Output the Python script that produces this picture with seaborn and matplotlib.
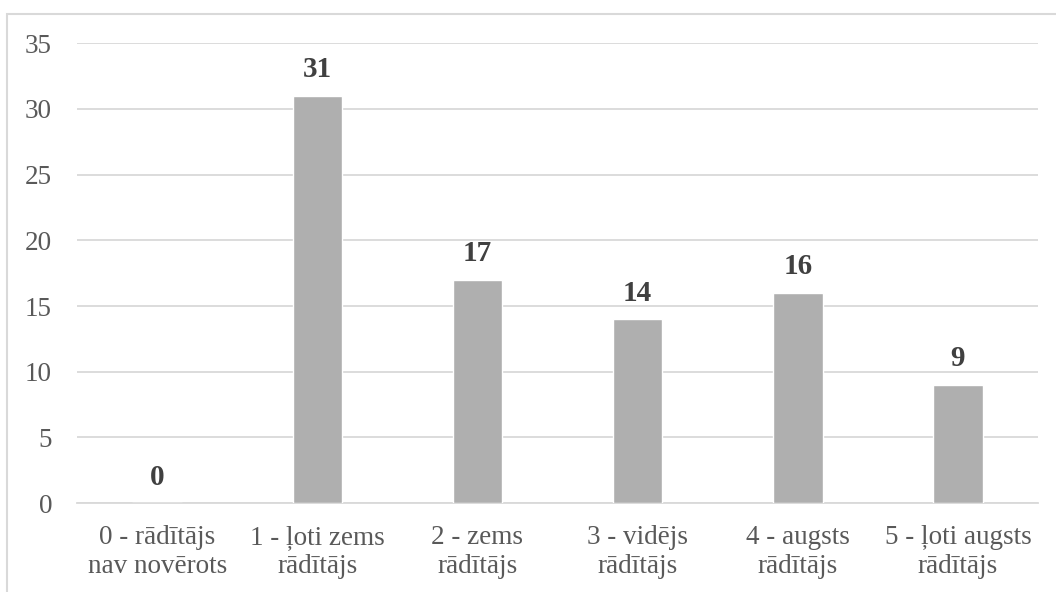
import matplotlib
matplotlib.use("Agg")
import matplotlib.pyplot as plt
import seaborn as sns
import pandas as pd

# Chart data
categories = ["0 - rādītājs\nnav novērots", "1 - ļoti zems\nrādītājs", "2 - zems\nrādītājs",
              "3 - vidējs\nrādītājs", "4 - augsts\nrādītājs", "5 - ļoti augsts\nrādītājs"]
counts = [0, 31, 17, 14, 16, 9]
y_ticks = [0, 5, 10, 15, 20, 25, 30, 35]

df = pd.DataFrame({"cat": categories, "count": counts})

sns.set_style("white")
plt.rcParams['font.family'] = ['Liberation Serif', 'DejaVu Serif']

text_col = "#595959"
grid_col = "#d9d9d9"

fig = plt.figure(figsize=(10.56, 5.92), dpi=100)
ax = fig.add_axes([0.073, 0.150, 0.910, 0.777])

sns.barplot(data=df, x="cat", y="count", color="#afafaf", width=0.31,
            saturation=1, ax=ax, zorder=3)

ax.set_ylim(0, 35)
ax.set_yticks(y_ticks)
ax.set_xlim(-0.5, len(categories) - 0.5)
ax.yaxis.grid(True, color=grid_col, linewidth=1.3, zorder=0)
ax.set_axisbelow(True)
for s in ["left", "right", "top"]:
    ax.spines[s].set_visible(False)
ax.spines["bottom"].set_color(grid_col)
ax.spines["bottom"].set_linewidth(1.3)
ax.tick_params(axis="both", length=0, labelsize=19.5, colors=text_col)
ax.tick_params(axis="y", pad=18)
ax.tick_params(axis="x", pad=16)
ax.set_xlabel("")
ax.set_ylabel("")

ax.bar_label(ax.containers[0], labels=[str(v) for v in counts], padding=9,
             fontsize=21, fontweight="bold", color="#404040")

# light frame round the chart area (only top and left edges fall inside the image)
fig.patches.append(plt.Rectangle((0.0066, -0.02), 1.1, 0.997, transform=fig.transFigure,
                                 fill=False, edgecolor=grid_col, linewidth=1.5))

fig.savefig("out.png", dpi=100)
